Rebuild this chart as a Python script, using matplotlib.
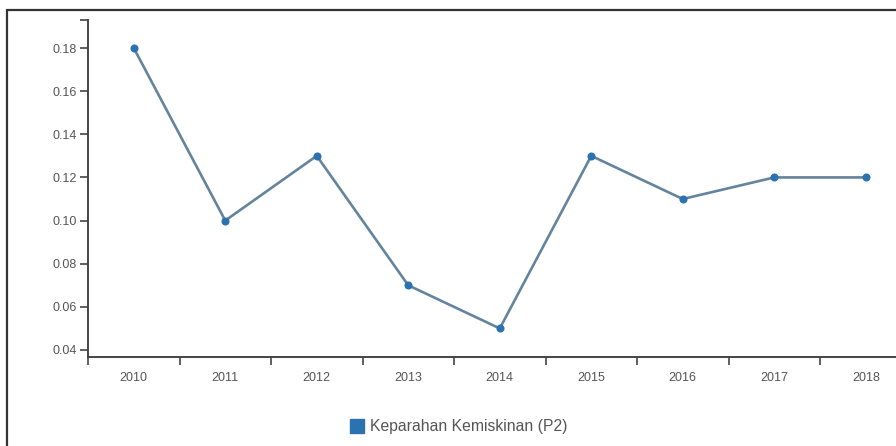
import matplotlib.pyplot as plt
from matplotlib.patches import Rectangle
from matplotlib.lines import Line2D
import numpy as np

years = ['2010', '2011', '2012', '2013', '2014', '2015', '2016', '2017', '2018']
p2_values = [0.18, 0.10, 0.13, 0.07, 0.05, 0.13, 0.11, 0.12, 0.12]
series_name = 'Keparahan Kemiskinan (P2)'
y_ticks = [0.04, 0.06, 0.08, 0.10, 0.12, 0.14, 0.16, 0.18]

W, H = 896, 446
plt.rcParams['font.family'] = ['Liberation Sans', 'DejaVu Sans']

fig = plt.figure(figsize=(W / 100, H / 100), dpi=100)

# outer frame (cropped on right and bottom)
frame = Rectangle((7 / W, -0.05), 1.1, (H - 10) / H + 0.05, transform=fig.transFigure,
                  fill=False, edgecolor='#333333', linewidth=1.6, clip_on=False)
fig.patches.append(frame)

# axes: y-axis at x=88, x-axis at y=357, top at y=20; 9 bands of ~91.5px
left, right = 88, 88 + 9 * 91.5
top, bottom = 20, 357
ax = fig.add_axes([left / W, (H - bottom) / H, (right - left) / W, (bottom - top) / H])

x = np.arange(len(years))
ax.plot(x, p2_values, color='#64849b', linewidth=1.9, zorder=2)
ax.plot(x, p2_values, linestyle='', marker='o', markersize=4.8, color='#2a72b0', zorder=3)

y0 = 0.04 - 7 / 2157
y1 = 0.18 + 28 / 2157
ax.set_ylim(y0, y1)
ax.set_xlim(-0.5, len(years) - 0.5)

for s in ['top', 'right']:
    ax.spines[s].set_visible(False)
for s in ['left', 'bottom']:
    ax.spines[s].set_color('#444444')
    ax.spines[s].set_linewidth(1.4)

ax.set_yticks(y_ticks)
ax.set_yticklabels([f'{v:.2f}' for v in y_ticks])
ax.set_yticks([y1], minor=True)
ax.tick_params(axis='y', which='both', direction='out', length=6, width=1.2,
               color='#444444', labelsize=9, labelcolor='#555555', pad=2)

ax.set_xticks(np.arange(-0.5, len(years), 1.0))
ax.set_xticklabels([])
ax.set_xticks(x, minor=True)
ax.set_xticklabels(years, minor=True)
ax.tick_params(axis='x', which='major', direction='out', length=6, width=1.2, color='#444444')
ax.tick_params(axis='x', which='minor', length=0, labelsize=9, labelcolor='#555555', pad=11)

handle = Line2D([], [], linestyle='', marker='s', markersize=10, color='#2a72b0')
fig.legend([handle], [series_name], loc='center', bbox_to_anchor=(458 / W, 1 - 427 / H),
           frameon=False, fontsize=11.3, labelcolor='#555555', handletextpad=0.3,
           handlelength=1.0)

fig.savefig('out.png', dpi=100)
